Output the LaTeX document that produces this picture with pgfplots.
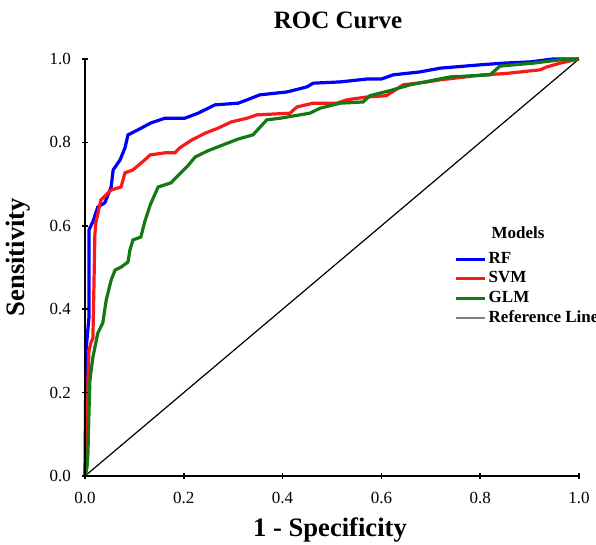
\documentclass[border=0pt]{standalone}
\usepackage{fontspec}
\setmainfont{Liberation Serif}
\usepackage{pgfplots}
\pgfplotsset{compat=1.18}

\definecolor{rfblue}{RGB}{0,0,250}
\definecolor{svmred}{RGB}{250,25,25}
\definecolor{glmgreen}{RGB}{20,120,20}

\begin{document}
\begin{tikzpicture}
\useasboundingbox (-42.5pt,-34.5pt) rectangle (255.5pt,238pt);
\begin{axis}[
    at={(0pt,0pt)}, anchor=origin,
    scale only axis,
    width=247pt, height=208.5pt,
    axis lines=left,
    axis line style={line width=1pt, -},
    axis on top,
    xmin=0, xmax=1, ymin=0, ymax=1,
    xtick={0,0.2,...,1}, ytick={0,0.2,...,1},
    tick align=center,
    major tick length=3pt,
    tick style={line width=0.8pt, black},
    /pgf/number format/assume math mode=true,
    /pgf/number format/.cd, fixed, fixed zerofill, precision=1, /pgfplots/.cd,
    tick label style={font=\fontsize{8.5}{10}\selectfont},
    xticklabel style={yshift=-3pt},
    yticklabel style={xshift=-2pt},
    xlabel={\textbf{1 - Specificity}},
    ylabel={\textbf{Sensitivity}},
    label style={font=\fontsize{13.3}{15}\selectfont},
    xlabel style={at={(axis description cs:0.496,-0.1295)}, anchor=center},
    ylabel style={at={(axis description cs:-0.1356,0.525)}, anchor=center},
    clip=false,
    legend style={
        at={(rel axis cs:0.735,0.552)}, anchor=north west,
        draw=none, fill=none,
        font=\fontsize{8.5}{10}\selectfont\bfseries,
        row sep=0.6pt,
        nodes={inner sep=1pt},
    },
    legend cell align=left,
    legend image code/.code={\draw[#1] (0pt,0pt) -- (14.5pt,0pt);},
]

% reference diagonal
\addplot[black, line width=0.6pt, forget plot] coordinates {(0,0) (1,1)};

% RF
\addplot[rfblue, line width=1.6pt] coordinates {
(0,0) (0.002,0.30) (0.008,0.38) (0.008,0.59) (0.016,0.61) (0.026,0.645)
(0.040,0.655) (0.053,0.693) (0.057,0.734) (0.071,0.758) (0.081,0.787)
(0.087,0.818) (0.107,0.830) (0.134,0.847) (0.162,0.858) (0.202,0.858)
(0.229,0.870) (0.263,0.890) (0.310,0.894) (0.328,0.902) (0.354,0.914)
(0.409,0.921) (0.449,0.933) (0.462,0.942) (0.516,0.945) (0.571,0.952)
(0.600,0.952) (0.624,0.962) (0.678,0.969) (0.719,0.978) (0.800,0.986)
(0.846,0.990) (0.901,0.993) (0.947,1.0) (1,1)
};
\addlegendentry{RF}

% SVM
\addplot[svmred, line width=1.6pt] coordinates {
(0,0) (0.004,0.10) (0.006,0.23) (0.008,0.30) (0.012,0.32) (0.016,0.33)
(0.018,0.45) (0.020,0.58) (0.022,0.607) (0.032,0.662) (0.053,0.686)
(0.073,0.693) (0.081,0.727) (0.097,0.734) (0.121,0.758) (0.132,0.770)
(0.162,0.775) (0.182,0.775) (0.192,0.787) (0.215,0.805) (0.243,0.822)
(0.269,0.834) (0.296,0.849) (0.328,0.858) (0.348,0.866) (0.415,0.870)
(0.429,0.885) (0.462,0.894) (0.510,0.894) (0.530,0.902) (0.571,0.909)
(0.610,0.912) (0.644,0.938) (0.692,0.945) (0.719,0.950) (0.806,0.962)
(0.850,0.965) (0.921,0.974) (0.935,0.981) (0.962,0.990) (1,1)
};
\addlegendentry{SVM}

% GLM
\addplot[glmgreen, line width=1.6pt] coordinates {
(0,0) (0.004,0.02) (0.006,0.055) (0.008,0.15) (0.010,0.23) (0.016,0.285)
(0.026,0.343) (0.036,0.367) (0.043,0.422) (0.053,0.470) (0.061,0.494)
(0.073,0.501) (0.087,0.513) (0.091,0.542) (0.097,0.566) (0.113,0.573)
(0.121,0.610) (0.132,0.650) (0.148,0.693) (0.174,0.703) (0.188,0.720)
(0.209,0.745) (0.223,0.765) (0.249,0.780) (0.275,0.792) (0.310,0.808)
(0.340,0.818) (0.368,0.854) (0.395,0.858) (0.455,0.870) (0.476,0.882)
(0.516,0.894) (0.563,0.897) (0.577,0.912) (0.620,0.925) (0.658,0.938)
(0.739,0.957) (0.820,0.962) (0.840,0.983) (0.907,0.990) (0.962,0.998)
(1,1)
};
\addlegendentry{GLM}

\addlegendimage{gray, line width=0.6pt}
\addlegendentry{Reference Line}

\end{axis}
\node[font=\fontsize{12.5}{15}\selectfont\bfseries] at (126.5pt,228pt) {ROC Curve};
\node[font=\fontsize{8.5}{10}\selectfont\bfseries] at (216.5pt,121.5pt) {Models};
\end{tikzpicture}
\end{document}
